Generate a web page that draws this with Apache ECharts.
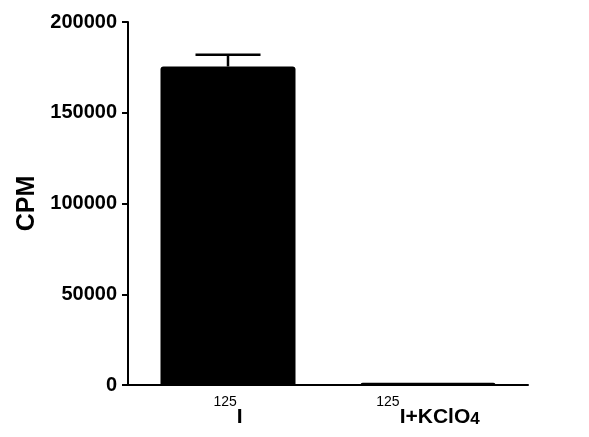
<!DOCTYPE html>
<html>
<head>
<meta charset="utf-8">
<script src="https://cdn.jsdelivr.net/npm/echarts@6/dist/echarts.min.js"></script>
<style>
html,body{margin:0;padding:0;background:#fff;}
#c{width:589px;height:437px;}
</style>
</head>
<body>
<div id="c"></div>
<script>
var categories = ['125I', '125I+KClO4'];
var categoryLabels = ['{sup|125}{b|I}', '{sup|125}{b|I+KClO}{sub|4}'];
var cpmValues = [175500, 1200];
var cpmErrors = [6500, 0];
var yTicks = [0, 50000, 100000, 150000, 200000];

var FONT = "'Liberation Sans', Arial, sans-serif";
var chart = echarts.init(document.getElementById('c'), null, {renderer: 'canvas'});

var errData = categories.map(function (c, i) { return [i, cpmValues[i], cpmValues[i] + cpmErrors[i]]; });

chart.setOption({
  animation: false,
  backgroundColor: '#fff',
  grid: {left: 128, right: 61, top: 22, bottom: 52, containLabel: false},
  xAxis: {
    type: 'category',
    data: categories,
    axisLine: {lineStyle: {color: '#000', width: 2}},
    axisTick: {alignWithLabel: true, length: 8, lineStyle: {color: '#000', width: 2}},
    axisLabel: {
      margin: 10,
      color: '#000',
      fontFamily: FONT,
      formatter: function (v, i) { return categoryLabels[i]; },
      rich: {
        sup: {fontSize: 14, fontFamily: FONT, color: '#000', verticalAlign: 'top', lineHeight: 15},
        b: {fontSize: 21, fontWeight: 'bold', fontFamily: FONT, color: '#000', lineHeight: 33, verticalAlign: 'bottom'},
        sub: {fontSize: 17, fontWeight: 'bold', fontFamily: FONT, color: '#000', verticalAlign: 'bottom', lineHeight: 29}
      }
    }
  },
  yAxis: {
    type: 'value',
    min: yTicks[0],
    max: yTicks[yTicks.length - 1],
    interval: yTicks[1] - yTicks[0],
    name: 'CPM',
    nameLocation: 'middle',
    nameGap: 88,
    nameMoveOverlap: false,
    nameRotate: 90,
    nameTextStyle: {fontSize: 25, fontWeight: 'bold', color: '#000', fontFamily: FONT, padding: [8, 0, 0, 0]},
    splitLine: {show: false},
    axisLine: {show: true, lineStyle: {color: '#000', width: 2}},
    axisTick: {show: true, length: 6, lineStyle: {color: '#000', width: 2}},
    axisLabel: {
      margin: 11,
      color: '#000',
      fontSize: 20,
      fontWeight: 'bold',
      fontFamily: FONT,
      formatter: function (v) { return String(v); }
    }
  },
  series: [
    {
      type: 'bar',
      data: cpmValues,
      barWidth: '67.5%',
      itemStyle: {color: '#000', borderRadius: [3, 3, 0, 0]},
      z: 2
    },
    {
      type: 'custom',
      data: errData,
      z: 3,
      renderItem: function (params, api) {
        var x = api.value(0);
        var lo = api.coord([x, api.value(1)]);
        var hi = api.coord([x, api.value(2)]);
        if (Math.abs(hi[1] - lo[1]) < 0.5) return null;
        var half = 32.5;
        var style = {stroke: '#000', lineWidth: 2.5};
        return {
          type: 'group',
          children: [
            {type: 'line', shape: {x1: lo[0], y1: lo[1], x2: hi[0], y2: hi[1]}, style: style},
            {type: 'line', shape: {x1: hi[0] - half, y1: hi[1], x2: hi[0] + half, y2: hi[1]}, style: style}
          ]
        };
      }
    }
  ]
});
</script>
</body>
</html>
